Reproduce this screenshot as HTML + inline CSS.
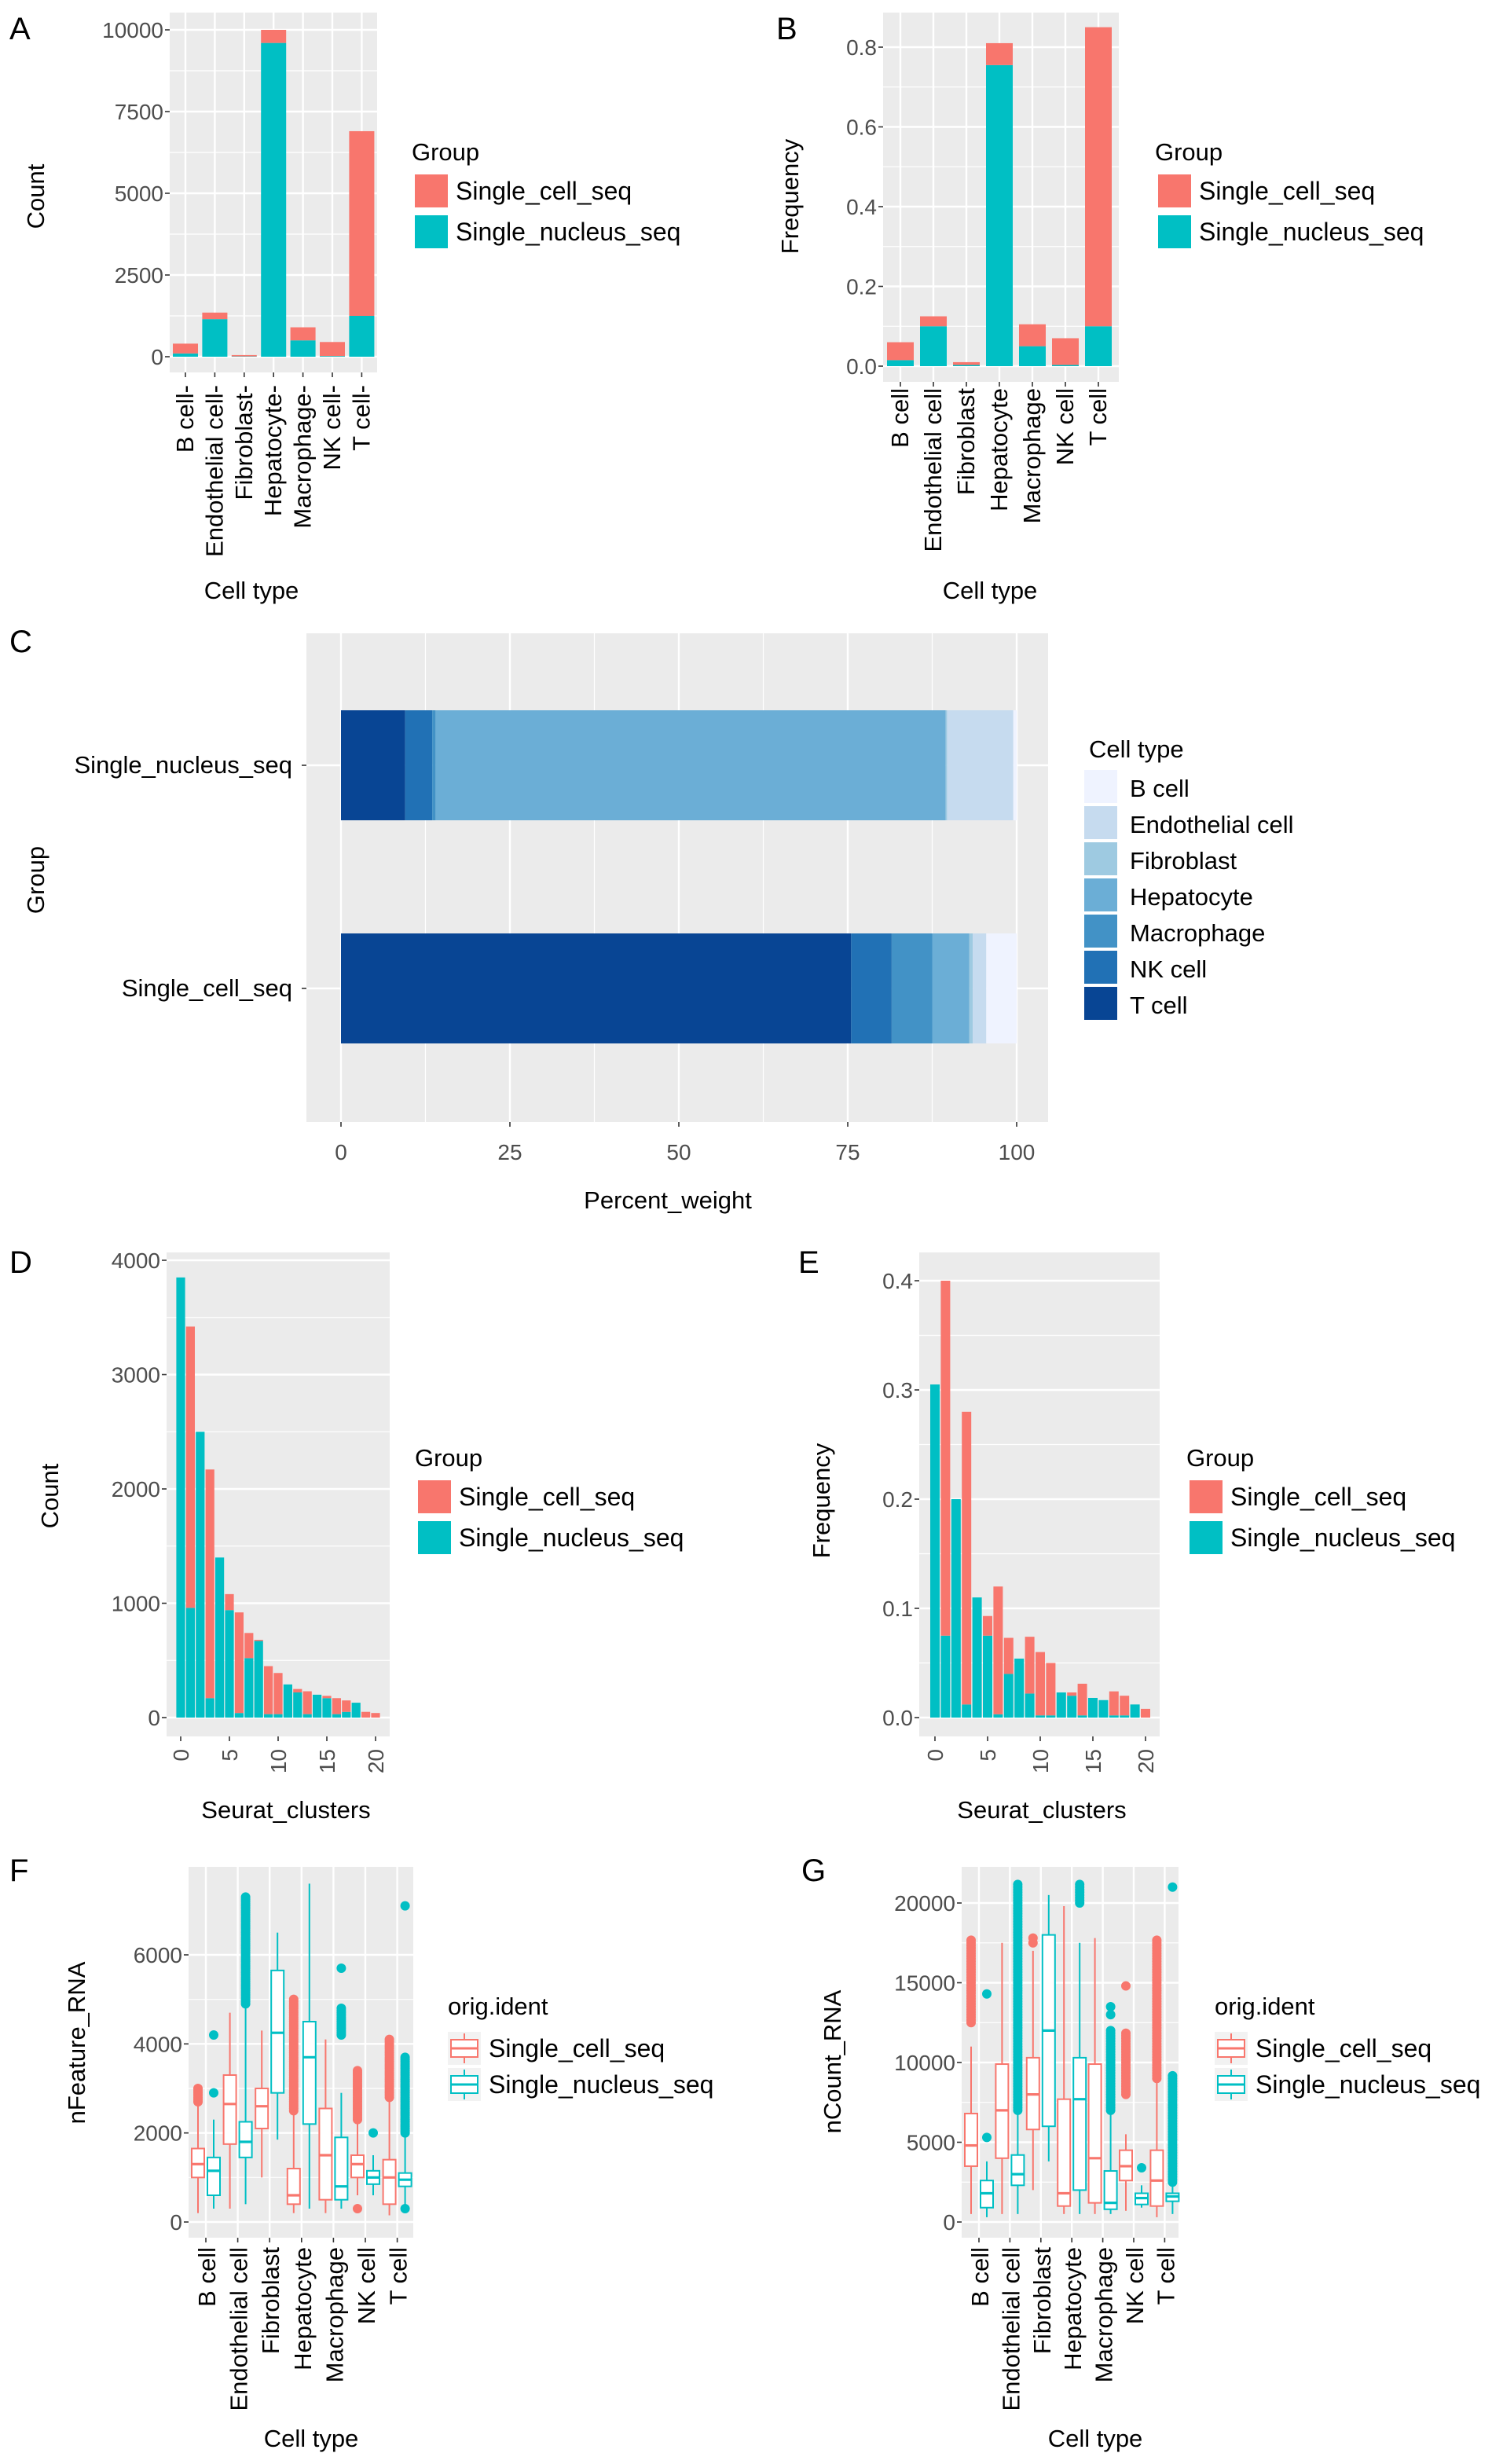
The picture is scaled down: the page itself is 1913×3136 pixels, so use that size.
<!DOCTYPE html>
<html><head><meta charset="utf-8">
<style>
html,body{margin:0;padding:0;background:#fff;}
svg{display:block;font-family:"Liberation Sans",Arial,sans-serif;}
</style></head>
<body>
<svg id="fig" xmlns="http://www.w3.org/2000/svg" width="1913" height="3136" viewBox="0 0 956.5 1568"></svg>
<script>
// ---------- DATA ----------
const cellTypes = ["B cell","Endothelial cell","Fibroblast","Hepatocyte","Macrophage","NK cell","T cell"];
const groups = ["Single_cell_seq","Single_nucleus_seq"];
// Panel A: counts
const countCell = [300, 200, 40, 400, 400, 430, 5650];
const countNucleus = [100, 1150, 10, 9600, 500, 20, 1250];
const countTicks = [0, 2500, 5000, 7500, 10000];
// Panel B: frequency
const freqCell = [0.045, 0.025, 0.007, 0.055, 0.055, 0.067, 0.75];
const freqNucleus = [0.015, 0.10, 0.003, 0.755, 0.05, 0.003, 0.10];
const freqTicks = [0, 0.2, 0.4, 0.6, 0.8];
// Panel C: percent weight, stacking order left->right
const stackTypes = ["T cell","NK cell","Macrophage","Hepatocyte","Fibroblast","Endothelial cell","B cell"];
const pctNucleus = [9.5, 4, 0.5, 75.5, 0.2, 9.8, 0.5];
const pctCell = [75.5, 6, 6, 5.5, 0.5, 2, 4.5];
const pctTicks = [0, 25, 50, 75, 100];
// Panel D: counts per cluster
const clusters = [0,1,2,3,4,5,6,7,8,9,10,11,12,13,14,15,16,17,18,19,20];
const clCountNucleus = [3850,960,2500,170,1400,940,40,520,670,30,30,290,220,30,200,170,30,50,130,0,0];
const clCountCell = [0,2460,0,2000,0,140,880,220,10,420,360,0,30,200,0,20,140,100,0,50,40];
const clTicks = [0,5,10,15,20];
const clCountTicks = [0,1000,2000,3000,4000];
// Panel E: frequency per cluster
const clFreqNucleus = [0.305,0.075,0.20,0.012,0.11,0.075,0.003,0.04,0.054,0.022,0.002,0.002,0.023,0.02,0.002,0.018,0.016,0.002,0.002,0.012,0];
const clFreqCell = [0,0.325,0,0.268,0,0.018,0.117,0.033,0,0.052,0.058,0.048,0,0.003,0.029,0,0,0.022,0.018,0,0.008];
const clFreqTicks = [0,0.1,0.2,0.3,0.4];
// Panel F: nFeature_RNA boxes [q1, median, q3, whiskerLow, whiskerHigh]
const featCell = [[1000,1300,1650,200,2700],[1750,2650,3300,300,4700],[2100,2600,3000,1000,4300],[400,600,1200,200,2500],[500,1500,2550,200,4100],[1000,1300,1500,600,2200],[400,1000,1400,150,2700]];
const featNucleus = [[600,1150,1450,300,2300],[1450,1800,2250,400,4800],[2900,4250,5650,1850,6500],[2200,3700,4500,300,7600],[500,800,1900,300,2900],[850,1000,1150,600,1500],[800,950,1100,300,1900]];
const featCellOutRange = [[2700,3000],[0,0],[0,0],[2500,5000],[0,0],[2300,3400],[2800,4100]];
const featNucleusOutRange = [[0,0],[4900,7300],[0,0],[0,0],[4200,4800],[0,0],[2000,3700]];
const featCellOutPts = [[],[],[],[],[],[300],[]];
const featNucleusOutPts = [[2900,4200],[],[],[],[5700],[2000],[7100,300]];
const featTicks = [0,2000,4000,6000];
// Panel G: nCount_RNA
const cntCell = [[3500,4800,6800,500,11000],[4000,7000,9900,500,17500],[5800,8000,10300,2000,17000],[1000,1800,7700,500,19800],[1200,4000,9900,500,17800],[2600,3500,4500,700,5500],[1000,2600,4500,300,9000]];
const cntNucleus = [[900,1800,2600,300,3800],[2300,3000,4200,500,6800],[6000,12000,18000,3800,20500],[2000,7700,10300,500,17500],[800,1200,3200,500,7000],[1100,1500,1800,900,2300],[1300,1600,1800,500,2500]];
const cntCellOutRange = [[12500,17800],[0,0],[0,0],[0,0],[0,0],[8000,11900],[9000,17800]];
const cntNucleusOutRange = [[0,0],[7000,21200],[0,0],[20000,21300],[7000,12000],[0,0],[2500,9300]];
const cntCellOutPts = [[],[],[17800,17500],[],[],[14800],[]];
const cntNucleusOutPts = [[5300,14300],[],[],[],[13500,13000],[3400],[21000]];
const cntTicks = [0,5000,10000,15000,20000];

// ---------- DRAW HELPERS ----------
const NS="http://www.w3.org/2000/svg";
const svg=document.getElementById('fig');
const RED="#F8766D", TEAL="#00BFC4", PANEL="#EBEBEB";
function mk(tag,a,parent){const e=document.createElementNS(NS,tag);for(const k in a)e.setAttribute(k,a[k]);(parent||svg).appendChild(e);return e;}
function tx(x,y,s,size,anchor,rot,fill,parent){
  const e=mk('text',{x:x,y:y,'font-size':size,'text-anchor':anchor||'start',fill:fill||'#000'},parent);
  if(rot)e.setAttribute('transform','rotate('+rot+' '+x+' '+y+')');
  e.textContent=s;return e;}
function lin(x1,y1,x2,y2,st,w,parent){return mk('line',{x1:x1,y1:y1,x2:x2,y2:y2,stroke:st,'stroke-width':w},parent);}

function panelBg(g,x0,x1,y0,y1){const r=mk('rect',{x:x0,y:y0,width:x1-x0,height:y1-y0,fill:PANEL},g);}
function yAxis(g,ticks,ys,x0,x1,labFmt,minor){
  ticks.forEach((t,i)=>{
    if(minor&&i<ticks.length-1){lin(x0,(ys(t)+ys(ticks[i+1]))/2,x1,(ys(t)+ys(ticks[i+1]))/2,'#fff',0.6,g);}
    lin(x0,ys(t),x1,ys(t),'#fff',1.2,g);
    lin(x0-3,ys(t),x0,ys(t),'#333',0.8,g);
    const l=tx(x0-4,ys(t)+5,labFmt(t),14,'end',0,'#4d4d4d',g);
    
    
  });
}
function legendFill(g,x,y,title,cols,labels,fs){
  const t=tx(x,y,title,15.5,'start',0,'#000',g);
  
  
  cols.forEach((c,i)=>{
    const r=mk('rect',{x:x+2,y:y+9+i*26,width:21,height:21,fill:c},g);
    
    
    const l=tx(x+28,y+25+i*26,labels[i],fs||16,'start',0,'#000',g);
    
    
  });
}
function panelLetter(s,x,y){const t=tx(x,y,s,20,'start',0,'#000');}

// stacked bar chart (categories)
function stacked(name,o){
  const g=mk('g',{});
  
  
  panelBg(g,o.x0,o.x1,o.y0,o.y1);
  const ys=v=>o.base-(v/o.max)*(o.base-o.top);
  yAxis(g,o.ticks,ys,o.x0,o.x1,o.fmt,true);
  const xs=i=>o.c0+i*o.step;
  o.cats.forEach((c,i)=>{ if(o.vgrid) lin(xs(i),o.y0,xs(i),o.y1,'#fff',1.2,g);});
  o.cats.forEach((c,i)=>{
    const nb=o.nuc[i], cb=o.cell[i];
    const r1=mk('rect',{x:xs(i)-o.w/2,y:ys(nb),width:o.w,height:Math.max(0,ys(0)-ys(nb)),fill:TEAL},g);
    
    
    const r2=mk('rect',{x:xs(i)-o.w/2,y:ys(nb+cb),width:o.w,height:Math.max(0,ys(nb)-ys(nb+cb)),fill:RED},g);
    
    
  });
  o.xt.forEach((lab,i)=>{
    const xv=o.xpos?o.xpos(lab):xs(i);
    lin(xv,o.y1,xv,o.y1+3,'#333',0.8,g);
    const l=tx(xv+5,o.y1+o.xoff,String(lab)+(o.dash?'-':''),o.xfs||15.5,'end',-90,o.xcol||'#000',g);
    
    
  });
  return g;
}

// ---------- PANEL A ----------
panelLetter('A',6,25);
stacked('count-chart',{x0:108,x1:240,y0:8,y1:237,base:227,top:19,max:10000,ticks:countTicks,fmt:t=>String(t),
  cats:cellTypes,c0:118,step:18.7,w:16,nuc:countNucleus,cell:countCell,xt:cellTypes,xoff:8,dash:true,vgrid:true});
{const t=tx(28,125,'Count',15.5,'middle',-90);}
{const t=tx(160,381,'Cell type',15.5,'middle');}
legendFill(svg,262,102,'Group',[RED,TEAL],groups);

// ---------- PANEL B ----------
panelLetter('B',494,25);
stacked('frequency-chart',{x0:562,x1:712,y0:8,y1:243,base:233,top:30,max:0.8,ticks:freqTicks,fmt:t=>t.toFixed(1),
  cats:cellTypes,c0:573,step:21,w:17,nuc:freqNucleus,cell:freqCell,xt:cellTypes,xoff:4,vgrid:true});
{const t=tx(508,125,'Frequency',15.5,'middle',-90);}
{const t=tx(630,381,'Cell type',15.5,'middle');}
legendFill(svg,735,102,'Group',[RED,TEAL],groups);

// ---------- PANEL C ----------
panelLetter('C',6,415);
{
 const g=mk('g',{});
 
 
 panelBg(g,195,667,403,714);
 const xs=v=>217+v*4.3;
 pctTicks.forEach((t,i)=>{
   if(i<pctTicks.length-1){const m=(xs(t)+xs(pctTicks[i+1]))/2;lin(m,403,m,714,'#fff',0.6,g);}
   lin(xs(t),403,xs(t),714,'#fff',1.2,g);
   lin(xs(t),714,xs(t),717,'#333',0.8,g);
   const l=tx(xs(t),738,String(t),14,'middle',0,'#4d4d4d',g);
   
   
 });
 lin(195,487,667,487,'#fff',1.2,g);lin(195,629,667,629,'#fff',1.2,g);
 const blues={"B cell":"#EFF3FF","Endothelial cell":"#C6DBEF","Fibroblast":"#9ECAE1","Hepatocyte":"#6BAED6","Macrophage":"#4292C6","NK cell":"#2171B5","T cell":"#084594"};
 [[pctNucleus,452,'nucleus'],[pctCell,594,'cell']].forEach(([arr,yy,nm])=>{
   let acc=0;
   arr.forEach((v,i)=>{
     const r=mk('rect',{x:xs(acc),y:yy,width:v*4.3,height:70,fill:blues[stackTypes[i]]},g);
     
     
     acc+=v;
   });
 });
 const l1=tx(186,492,'Single_nucleus_seq',15.5,'end',0,'#000',g);
 
 
 const l2=tx(186,634,'Single_cell_seq',15.5,'end',0,'#000',g);
 
 
 lin(192,487,195,487,'#333',0.8,g);lin(192,629,195,629,'#333',0.8,g);
 const yt=tx(28,560,'Group',15.5,'middle',-90,'#000',g);
 
 
 const xt=tx(425,769,'Percent_weight',15.5,'middle',0,'#000',g);
 
 
 const lt=tx(693,482,'Cell type',15.5,'start',0,'#000',g);
 
 
 cellTypes.forEach((c,i)=>{
   const r=mk('rect',{x:690,y:490+i*23,width:21,height:21,fill:blues[c]},g);
   
   
   const l=tx(719,507+i*23,c,15.5,'start',0,'#000',g);
   
   
 });
}

// ---------- PANEL D ----------
panelLetter('D',6,810);
stacked('cluster-count-chart',{x0:106,x1:248,y0:797,y1:1105,base:1093,top:802,max:4000,ticks:clCountTicks,fmt:t=>String(t),
  cats:clusters,c0:115,step:6.2,w:5.6,nuc:clCountNucleus,cell:clCountCell,xt:clTicks,xpos:v=>115+v*6.2,xoff:8,xfs:14,xcol:'#4d4d4d'});
{const t=tx(37,952,'Count',15.5,'middle',-90);}
{const t=tx(182,1157,'Seurat_clusters',15.5,'middle');}
legendFill(svg,264,933,'Group',[RED,TEAL],groups);

// ---------- PANEL E ----------
panelLetter('E',508,810);
stacked('cluster-frequency-chart',{x0:585,x1:738,y0:797,y1:1105,base:1093,top:815,max:0.4,ticks:clFreqTicks,fmt:t=>t.toFixed(1),
  cats:clusters,c0:595,step:6.7,w:6,nuc:clFreqNucleus,cell:clFreqCell,xt:clTicks,xpos:v=>595+v*6.7,xoff:8,xfs:14,xcol:'#4d4d4d'});
{const t=tx(528,955,'Frequency',15.5,'middle',-90);}
{const t=tx(663,1157,'Seurat_clusters',15.5,'middle');}
legendFill(svg,755,933,'Group',[RED,TEAL],groups);

// ---------- BOX PLOTS ----------
function boxes(name,o){
  const g=mk('g',{});
  
  
  panelBg(g,o.x0,o.x1,o.y0,o.y1);
  const ys=v=>o.base-(v/o.max)*(o.base-o.top);
  yAxis(g,o.ticks,ys,o.x0,o.x1,t=>String(t),true);
  const xs=i=>o.c0+i*o.step;
  cellTypes.forEach((c,i)=>lin(xs(i),o.y0,xs(i),o.y1,'#fff',1.2,g));
  [[o.cell,o.cellR,o.cellP,RED,-5,'cell'],[o.nuc,o.nucR,o.nucP,TEAL,5,'nucleus']].forEach(([B,R,P,col,dx,nm])=>{
    B.forEach((b,i)=>{
      const cx=xs(i)+dx, w=8;
      const bg=mk('g',{},g);
      
      
      lin(cx,ys(b[3]),cx,ys(b[0]),col,1,bg);
      lin(cx,ys(b[2]),cx,ys(b[4]),col,1,bg);
      mk('rect',{x:cx-w/2,y:ys(b[2]),width:w,height:ys(b[0])-ys(b[2]),fill:'#fff',stroke:col,'stroke-width':1},bg);
      lin(cx-w/2,ys(b[1]),cx+w/2,ys(b[1]),col,1.6,bg);
      const r=R[i];
      if(r[1]>r[0]){const step=(o.max/120);for(let v=r[0];v<=r[1];v+=step){mk('circle',{cx:cx,cy:ys(v),r:3,fill:col},bg);}}
      P[i].forEach(v=>mk('circle',{cx:cx,cy:ys(v),r:3,fill:col},bg));
    });
  });
  cellTypes.forEach((c,i)=>{
    lin(xs(i),o.y1,xs(i),o.y1+3,'#333',0.8,g);
    const l=tx(xs(i)+6,o.y1+6,c,15.5,'end',-90,'#000',g);
    
    
  });
  return g;
}
function boxLegend(x,y){
  const t=tx(x,y,'orig.ident',15.5,'start');
  
  
  [RED,TEAL].forEach((c,i)=>{
    const g=mk('g',{});
    
    
    const yy=y+11+i*23;
    mk('rect',{x:x,y:yy,width:21,height:21,fill:'#f2f2f2'},g);
    lin(x+10.5,yy+1,x+10.5,yy+20,c,1,g);
    mk('rect',{x:x+2,y:yy+5,width:17,height:11,fill:'#fff',stroke:c,'stroke-width':1},g);
    lin(x+2,yy+10.5,x+19,yy+10.5,c,1.5,g);
    const l=tx(x+26,yy+16,groups[i],16,'start');
    
    
  });
}
panelLetter('F',6,1197);
boxes('nfeature-boxplot',{x0:120,x1:263,y0:1188,y1:1424,base:1414,top:1244,max:6000,ticks:featTicks,c0:131,step:20.3,
  cell:featCell,nuc:featNucleus,cellR:featCellOutRange,nucR:featNucleusOutRange,cellP:featCellOutPts,nucP:featNucleusOutPts});
{const t=tx(54,1300,'nFeature_RNA',15.5,'middle',-90);}
{const t=tx(198,1557,'Cell type',15.5,'middle');}
boxLegend(285,1282);

panelLetter('G',510,1197);
boxes('ncount-boxplot',{x0:612,x1:750,y0:1188,y1:1424,base:1414,top:1211,max:20000,ticks:cntTicks,c0:623,step:19.7,
  cell:cntCell,nuc:cntNucleus,cellR:cntCellOutRange,nucR:cntNucleusOutRange,cellP:cntCellOutPts,nucP:cntNucleusOutPts});
{const t=tx(535,1312,'nCount_RNA',15.5,'middle',-90);}
{const t=tx(697,1557,'Cell type',15.5,'middle');}
boxLegend(773,1282);
</script>
</body></html>
